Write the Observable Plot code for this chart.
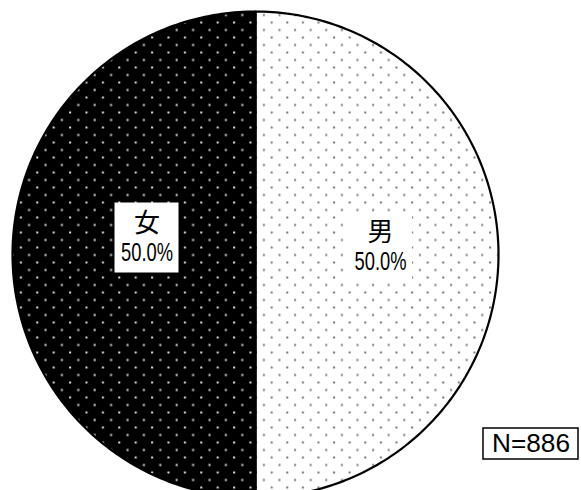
<!DOCTYPE html>
<html>
<head>
<meta charset="utf-8">
<script src="https://cdn.jsdelivr.net/npm/d3@7"></script>
<script src="https://cdn.jsdelivr.net/npm/@observablehq/plot@0.6"></script>
<style>
  html, body { margin: 0; padding: 0; background: #fff; }
  svg { display: block; }
</style>
</head>
<body>
<div id="chart"></div>
<script>
const categories = ["男", "女"];
const shares = [50.0, 50.0];
const shareLabels = ["50.0%", "50.0%"];
const sampleSize = 886;

const fills = {"男": "url(#dotsWhite)", "女": "url(#dotsBlack)"};

const arcs = d3.pie().sort(null).value(d => d)(shares);
const STEPS = 180;
const slicePoints = [];
arcs.forEach((a, i) => {
  slicePoints.push({cat: categories[i], x: 0, y: 0});
  for (let k = 0; k <= STEPS; k++) {
    const ang = a.startAngle + (a.endAngle - a.startAngle) * k / STEPS;
    slicePoints.push({cat: categories[i], x: Math.sin(ang), y: Math.cos(ang)});
  }
});

const labels = arcs.map((a, i) => {
  const mid = (a.startAngle + a.endAngle) / 2;
  return {cat: categories[i], pct: shareLabels[i], x: 0.5 * Math.sin(mid), y: 0.5 * Math.cos(mid)};
});
// small label adjustments (pixel offsets per label, as in the reference)
const labelShift = {"男": {dx: 3.5, dy: -7}, "女": {dx: 13, dy: -16.5}};
const U = 1 / 243; // data units per pixel

const boxW = 64, boxH = 70;

const marks = [];
categories.forEach(c => {
  marks.push(Plot.line(slicePoints.filter(d => d.cat === c), {
    x: "x", y: "y", curve: "linear-closed",
    fill: fills[c], stroke: "black", strokeWidth: 2.2
  }));
});
// white label boxes
marks.push(Plot.rect(labels, {
  x1: d => d.x + (labelShift[d.cat].dx - boxW / 2) * U,
  x2: d => d.x + (labelShift[d.cat].dx + boxW / 2) * U,
  y1: d => d.y - (labelShift[d.cat].dy - boxH / 2) * U,
  y2: d => d.y - (labelShift[d.cat].dy + boxH / 2) * U,
  fill: "white"
}));
marks.push(Plot.text(labels, {
  x: d => d.x + labelShift[d.cat].dx * U,
  y: d => d.y - labelShift[d.cat].dy * U,
  text: "cat", dy: -14.5, fontSize: 26, fill: "black",
  fontFamily: "'Noto Sans CJK JP', sans-serif"
}));
marks.push(Plot.text(labels, {
  x: d => d.x + labelShift[d.cat].dx * U,
  y: d => d.y - labelShift[d.cat].dy * U,
  text: "pct", dy: 14.5, fontSize: 25, fill: "black",
  fontFamily: "'Liberation Sans', Arial, sans-serif"
}));
// N box
const nBox = [{label: `N=${sampleSize}`}];
marks.push(Plot.rect(nBox, {
  x1: () => 228 * U, x2: () => 323 * U,
  y1: () => -174 * U, y2: () => -205 * U,
  fill: "white", stroke: "black", strokeWidth: 1.5
}));
marks.push(Plot.text(nBox, {
  x: () => 275.5 * U, y: () => -189.5 * U,
  text: "label", fontSize: 25, fill: "black",
  fontFamily: "'Liberation Sans', Arial, sans-serif"
}));

const chart = Plot.plot({
  width: 581,
  height: 490,
  margin: 0,
  x: {domain: [-1, 1], range: [12, 498], axis: null},
  y: {domain: [-1, 1], range: [497, 11], axis: null},
  style: {background: "white"},
  marks
});

// fit text widths to the reference's condensed lettering
chart.querySelectorAll("text").forEach(t => {
  const s = t.textContent;
  if (s.endsWith("%")) { t.setAttribute("textLength", 52); t.setAttribute("lengthAdjust", "spacingAndGlyphs"); }
  if (s.startsWith("N=")) { t.setAttribute("textLength", 78); t.setAttribute("lengthAdjust", "spacingAndGlyphs"); }
});

const ns = "http://www.w3.org/2000/svg";
const defs = document.createElementNS(ns, "defs");
defs.innerHTML = `
  <pattern id="dotsWhite" patternUnits="userSpaceOnUse" width="15.6" height="15" x="2" y="3">
    <rect width="15.6" height="15" fill="white"/>
    <rect x="3" y="3" width="2" height="2" fill="#777"/>
    <rect x="10.8" y="10.5" width="2" height="2" fill="#777"/>
  </pattern>
  <pattern id="dotsBlack" patternUnits="userSpaceOnUse" width="16.4" height="15" x="0" y="3">
    <rect width="16.4" height="15" fill="black"/>
    <rect x="3" y="3" width="2" height="2" fill="#ddd"/>
    <rect x="11.2" y="10.5" width="2" height="2" fill="#ddd"/>
  </pattern>`;
chart.insertBefore(defs, chart.firstChild);
document.getElementById("chart").appendChild(chart);
</script>
</body>
</html>
